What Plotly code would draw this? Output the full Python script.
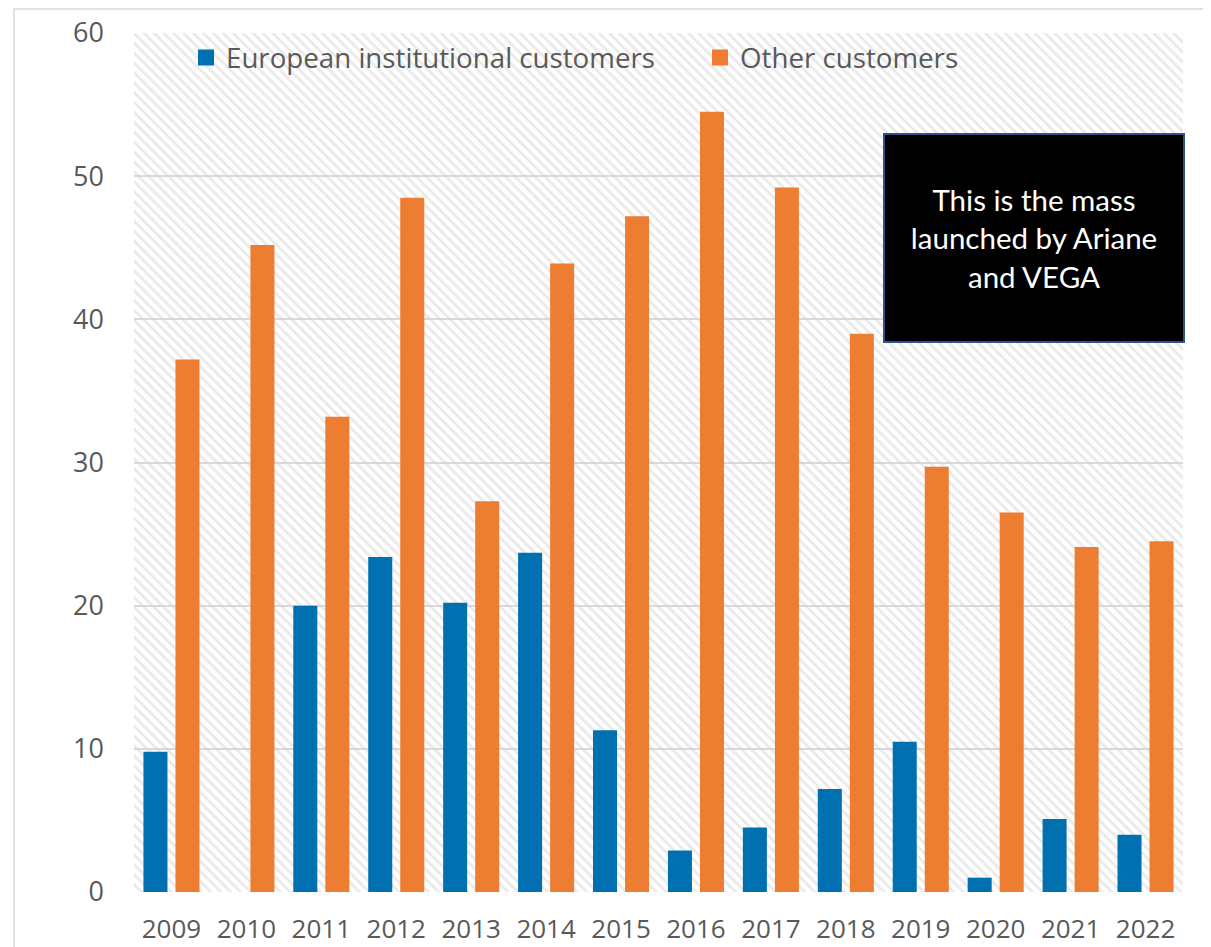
import plotly.graph_objects as go

years = ["2009", "2010", "2011", "2012", "2013", "2014", "2015",
         "2016", "2017", "2018", "2019", "2020", "2021", "2022"]
european_institutional = [9.8, 0.0, 20.0, 23.4, 20.2, 23.7, 11.3,
                          2.9, 4.5, 7.2, 10.5, 1.0, 5.1, 4.0]
other_customers = [37.2, 45.2, 33.2, 48.5, 27.3, 43.9, 47.2,
                   54.5, 49.2, 39.0, 29.7, 26.5, 24.1, 24.5]
y_ticks = [0, 10, 20, 30, 40, 50, 60]
series_names = ["European institutional customers", "Other customers"]
note_text = "This is the mass<br>launched by Ariane<br>and VEGA"

BLUE = "#0070b0"
ORANGE = "#ed7d31"
TXT = "#595959"
GRID = "#d9d9d9"

# page has an 8px body margin: figure is offset by 8px inside the window
OFF = 8
FIG_W, FIG_H = 1211 - OFF, 947 - OFF
M_L, M_R, M_T, M_B = 126, 28, 25, 55
PLOT_W = FIG_W - M_L - M_R
PLOT_H = FIG_H - M_T - M_B


def px_x(page_x):
    return (page_x - OFF - M_L) / PLOT_W


def px_y(page_y):
    return (FIG_H - M_B - (page_y - OFF)) / PLOT_H


xpos = list(range(len(years)))
x_lo, x_hi = -0.5, len(years) - 0.5
y_lo, y_hi = y_ticks[0], y_ticks[-1]

fig = go.Figure()

# hatched plot-area background
fig.add_trace(go.Scatter(
    x=[x_lo, x_hi, x_hi, x_lo, x_lo], y=[y_lo, y_lo, y_hi, y_hi, y_lo],
    mode="lines", line=dict(width=0), fill="toself",
    fillcolor="rgba(0,0,0,0)",
    fillpattern=dict(shape="\\", fgcolor="#d4d4d4", bgcolor="rgba(0,0,0,0)",
                     size=7, solidity=0.38),
    hoverinfo="skip", showlegend=False, zorder=-1))

fig.add_trace(go.Bar(x=xpos, y=european_institutional, name=series_names[0],
                     marker=dict(color=BLUE, line=dict(width=0)), showlegend=False,
                     zorder=1))
fig.add_trace(go.Bar(x=xpos, y=other_customers, name=series_names[1],
                     marker=dict(color=ORANGE, line=dict(width=0)), showlegend=False,
                     zorder=1))

# legend entries
fig.add_trace(go.Scatter(x=[None], y=[None], mode="markers", name=series_names[0],
                         marker=dict(symbol="square", size=17, color=BLUE),
                         legend="legend"))
fig.add_trace(go.Scatter(x=[None], y=[None], mode="markers", name=series_names[1],
                         marker=dict(symbol="square", size=17, color=ORANGE),
                         legend="legend2"))

legend_common = dict(orientation="h", bgcolor="rgba(0,0,0,0)", borderwidth=0,
                     font=dict(family="Open Sans", size=27.7, color=TXT),
                     yanchor="middle", y=px_y(58), xanchor="left", itemwidth=30)

fig.update_layout(
    width=FIG_W, height=FIG_H,
    margin=dict(l=M_L, r=M_R, t=M_T, b=M_B, autoexpand=False),
    paper_bgcolor="white", plot_bgcolor="white",
    barmode="group", bargap=0.145, bargroupgap=0.25,
    legend=dict(x=px_x(186), **legend_common),
    legend2=dict(x=px_x(700), **legend_common),
    font=dict(family="Open Sans", color=TXT),
    xaxis=dict(range=[x_lo, x_hi], tickmode="array", tickvals=xpos, ticktext=years,
               showgrid=False, zeroline=False, showline=True, linecolor=GRID,
               linewidth=2, ticks="", ticklabelstandoff=13, automargin=False,
               tickfont=dict(family="Open Sans", size=26, color=TXT)),
    yaxis=dict(range=[y_lo, y_hi], tickmode="array", tickvals=y_ticks,
               showgrid=True, gridcolor=GRID, gridwidth=1.5, zeroline=False,
               showline=False, ticks="", ticklabelstandoff=29, automargin=False,
               tickfont=dict(family="Open Sans", size=27, color=TXT)),
    annotations=[dict(text=note_text, xref="paper", yref="paper",
                      x=px_x(1034), y=px_y(238), xanchor="center", yanchor="middle",
                      showarrow=False, align="center",
                      width=298, height=206, bgcolor="black",
                      bordercolor="#2f528f", borderwidth=2, borderpad=0,
                      font=dict(family="Lato", size=29.5, color="white"))],
    shapes=[dict(type="rect", xref="paper", yref="paper",
                 x0=px_x(14), x1=px_x(1240),
                 y0=px_y(980), y1=px_y(9),
                 line=dict(color=GRID, width=1.5), fillcolor="rgba(0,0,0,0)",
                 layer="below")],
)

fig.write_html("out.html")
